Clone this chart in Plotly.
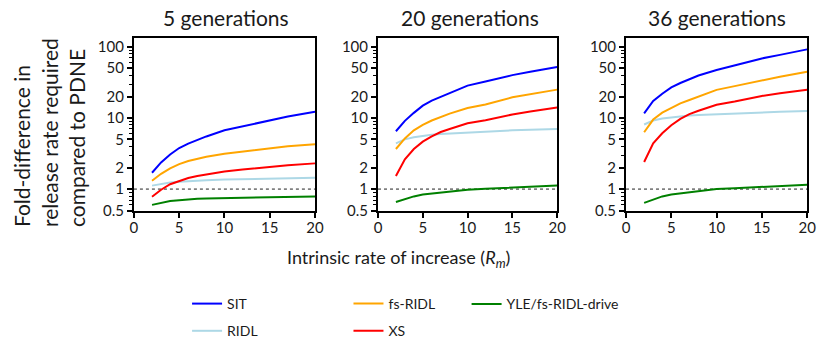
import plotly.graph_objects as go

# ---------------- data ----------------
rm = [2, 3, 4, 5, 6, 7, 8, 10, 12, 15, 17, 20]
panel_titles = ["5 generations", "20 generations", "36 generations"]
series_names = ["SIT", "RIDL", "fs-RIDL", "XS", "YLE/fs-RIDL-drive"]

sit_5 = [1.70, 2.37, 3.07, 3.78, 4.35, 4.9, 5.5, 6.7, 7.6, 9.4, 10.5, 12.2]
ridl_5 = [1.12, 1.19, 1.24, 1.27, 1.30, 1.32, 1.33, 1.36, 1.38, 1.41, 1.43, 1.45]
fsridl_5 = [1.31, 1.64, 1.96, 2.25, 2.48, 2.68, 2.85, 3.13, 3.38, 3.78, 4.0, 4.28]
xs_5 = [0.78, 0.98, 1.17, 1.31, 1.43, 1.53, 1.61, 1.77, 1.88, 2.07, 2.17, 2.30]
yle_5 = [0.60, 0.64, 0.68, 0.70, 0.72, 0.73, 0.74, 0.75, 0.76, 0.77, 0.78, 0.79]

sit_20 = [6.5, 9.1, 11.8, 14.9, 17.5, 19.8, 22.5, 28.5, 32.5, 40, 44.5, 52]
ridl_20 = [4.4, 5.0, 5.35, 5.6, 5.8, 5.95, 6.05, 6.2, 6.4, 6.7, 6.85, 7.0]
fsridl_20 = [3.66, 5.15, 6.7, 7.97, 9.2, 10.4, 11.5, 13.8, 15.5, 19.5, 21.5, 25]
xs_20 = [1.53, 2.62, 3.66, 4.65, 5.5, 6.35, 7.0, 8.4, 9.3, 11.2, 12.3, 14]
yle_20 = [0.66, 0.73, 0.79, 0.84, 0.87, 0.90, 0.93, 0.98, 1.01, 1.05, 1.08, 1.12]

sit_36 = [11.6, 17.3, 21.9, 26.9, 31, 35.3, 39.5, 47.1, 55, 68.7, 77, 92]
ridl_36 = [8.1, 9.2, 9.8, 10.2, 10.5, 10.8, 11.0, 11.3, 11.6, 12.0, 12.2, 12.5]
fsridl_36 = [6.3, 9.5, 11.9, 13.9, 16, 17.9, 20, 24.8, 28, 33.7, 38, 44.7]
xs_36 = [2.4, 4.4, 6.1, 7.9, 9.7, 11.3, 12.6, 15.3, 17, 20.4, 22.3, 25]
yle_36 = [0.64, 0.72, 0.79, 0.84, 0.87, 0.90, 0.93, 1.0, 1.03, 1.08, 1.11, 1.15]

baseline_x = [0, 20]
baseline_y = [1, 1]

y_tickvals = [0.5, 1, 2, 5, 10, 20, 50, 100]
y_ticktext = ["0.5", "1", "2", "5", "10", "20", "50", "100"]
y_minor = [0.6, 0.7, 0.8, 0.9, 3, 4, 6, 7, 8, 9, 30, 40, 60, 70, 80, 90]
x_tickvals = [0, 5, 10, 15, 20]

# ---------------- styling ----------------
FONT = "Lato, 'Open Sans', sans-serif"
TXT = "#1a1a1a"
colors = {"SIT": "#0000FF", "RIDL": "#ADD8E6", "fs-RIDL": "#FFA500",
          "XS": "#FF0000", "YLE/fs-RIDL-drive": "#008000"}
legend_of = {"SIT": "legend", "RIDL": "legend", "fs-RIDL": "legend2",
             "XS": "legend2", "YLE/fs-RIDL-drive": "legend3"}

panels = [
    {"SIT": sit_5, "RIDL": ridl_5, "fs-RIDL": fsridl_5, "XS": xs_5, "YLE/fs-RIDL-drive": yle_5},
    {"SIT": sit_20, "RIDL": ridl_20, "fs-RIDL": fsridl_20, "XS": xs_20, "YLE/fs-RIDL-drive": yle_20},
    {"SIT": sit_36, "RIDL": ridl_36, "fs-RIDL": fsridl_36, "XS": xs_36, "YLE/fs-RIDL-drive": yle_36},
]

W, H = 824, 347


def px(v):
    return v / W


def py(v):
    return 1 - v / H


x_domains = [[px(132), px(316)], [px(380), px(562)], [px(632), px(816)]]
y_domain = [py(221), py(39)]

fig = go.Figure()
draw_order = ["RIDL", "YLE/fs-RIDL-drive", "XS", "fs-RIDL", "SIT"]
for i, pdata in enumerate(panels):
    xa = "x" if i == 0 else f"x{i+1}"
    ya = "y" if i == 0 else f"y{i+1}"
    fig.add_trace(go.Scatter(x=baseline_x, y=baseline_y, mode="lines",
                             line=dict(color="#808080", width=1.6, dash="dot"),
                             showlegend=False, hoverinfo="skip", xaxis=xa, yaxis=ya))
    for name in draw_order:
        fig.add_trace(go.Scatter(
            x=rm, y=pdata[name], mode="lines", name=name,
            line=dict(color=colors[name], width=2),
            showlegend=(i == 0), legend=legend_of[name], legendgroup=name,
            legendrank=series_names.index(name),
            xaxis=xa, yaxis=ya))

axis_common = dict(showline=True, linewidth=2, linecolor="black", mirror=True,
                   ticks="outside", ticklen=5, tickwidth=2, tickcolor="black",
                   showgrid=False, zeroline=False,
                   tickfont=dict(family=FONT, size=15, color=TXT))

layout = dict(
    width=W, height=H, margin=dict(l=0, r=0, t=0, b=0),
    plot_bgcolor="white", paper_bgcolor="white",
    font=dict(family=FONT, color=TXT),
)
for i in range(3):
    xk = "xaxis" if i == 0 else f"xaxis{i+1}"
    yk = "yaxis" if i == 0 else f"yaxis{i+1}"
    layout[xk] = dict(axis_common, domain=x_domains[i], range=[0, 20],
                      tickvals=x_tickvals, ticklabelstandoff=-3,
                      anchor="y" if i == 0 else f"y{i+1}")
    layout[yk] = dict(axis_common, domain=y_domain, type="log", autorange=False,
                      range=[-0.30103, 2.124], tickvals=y_tickvals, ticktext=y_ticktext,
                      minor=dict(tickvals=y_minor, ticks="outside", ticklen=3,
                                 tickwidth=1, tickcolor="black"),
                      anchor="x" if i == 0 else f"x{i+1}")

leg_common = dict(font=dict(family=FONT, size=14, color=TXT), bgcolor="rgba(0,0,0,0)",
                  itemwidth=30, yanchor="top", xanchor="left", tracegroupgap=6,
                  orientation="v", traceorder="grouped")
layout["legend"] = dict(leg_common, x=px(186), y=py(303))
layout["legend2"] = dict(leg_common, x=px(350), y=py(303))
layout["legend3"] = dict(leg_common, x=px(470), y=py(303))
fig.update_layout(**layout)

centers = [(132 + 316) / 2 + 2, (380 + 562) / 2 + 2, (632 + 816) / 2]
for c, t in zip(centers, panel_titles):
    fig.add_annotation(x=px(c), y=py(17), xref="paper", yref="paper", text=t,
                       showarrow=False, font=dict(family=FONT, size=21, color=TXT),
                       xanchor="center", yanchor="middle")

fig.add_annotation(x=px(46), y=py(139), xref="paper", yref="paper",
                   text="Fold-difference in<br>release rate required<br>compared to PDNE",
                   textangle=-90, showarrow=False, align="left",
                   font=dict(family=FONT, size=21, color=TXT),
                   xanchor="center", yanchor="middle")

fig.add_annotation(x=px(401), y=py(272), xref="paper", yref="paper",
                   text="Intrinsic rate of increase (<i>R</i><sub><i>m</i></sub>)",
                   showarrow=False, font=dict(family=FONT, size=18, color=TXT),
                   xanchor="center", yanchor="middle")

fig.write_html("out.html", config={"displayModeBar": False},
               post_script="document.body.style.margin='0';")
